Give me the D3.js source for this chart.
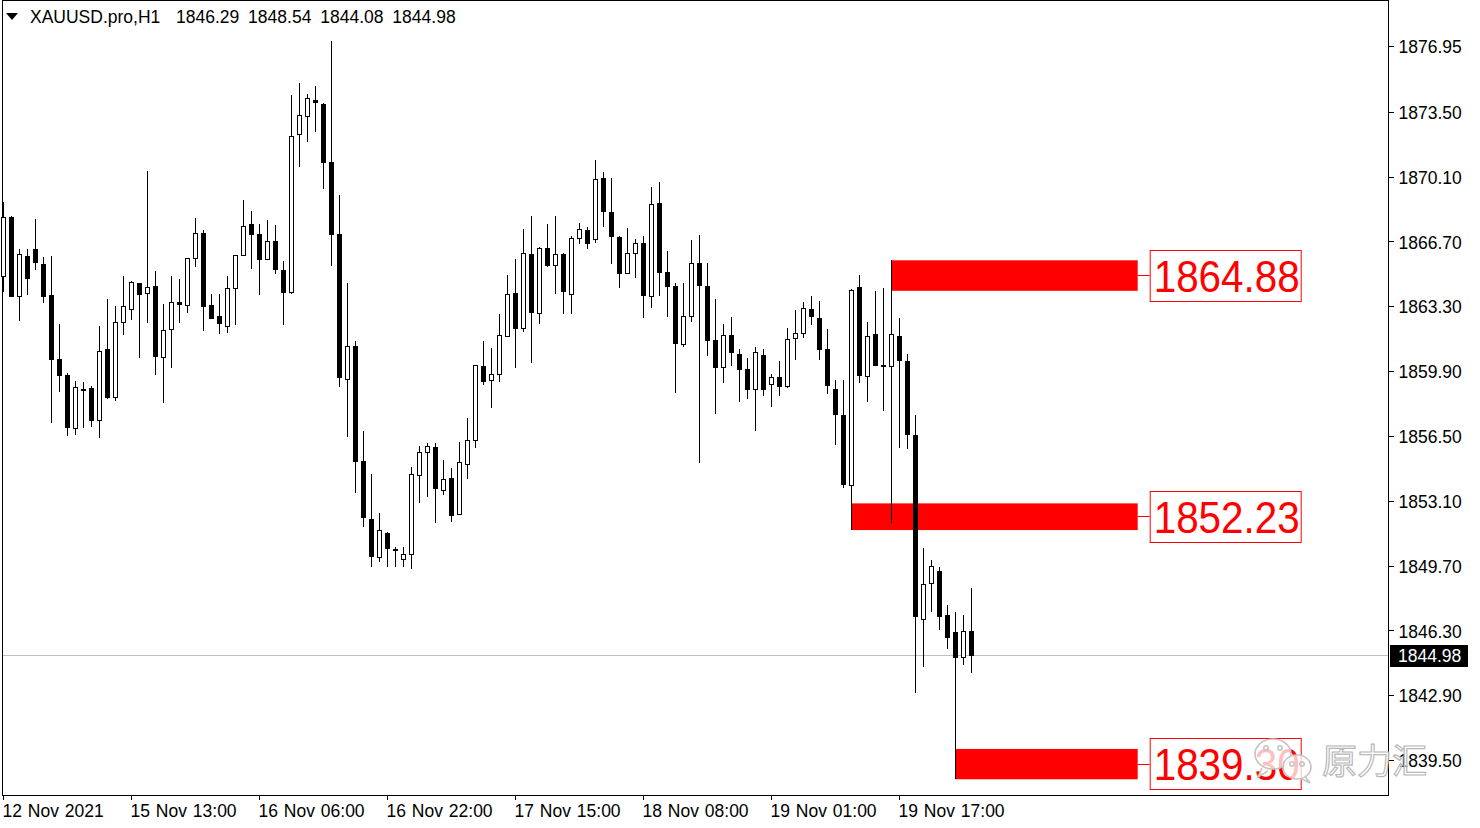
<!DOCTYPE html>
<html>
<head>
<meta charset="utf-8">
<script src="https://cdn.jsdelivr.net/npm/d3@7"></script>
<style>
  body { margin: 0; background: #fff; }
  svg { display: block; font-family: "Liberation Sans", Arial, sans-serif; }
</style>
</head>
<body>
<div id="vis-container"></div>
<script>
/* XAUUSD H1 candles */

const symbol = "XAUUSD.pro,H1";

const opens = [
  1864.85, 1867.96, 1863.80, 1865.92, 1866.29, 1865.50, 1863.87, 1860.52, 1859.69, 1856.90,
  1858.98, 1859.00, 1857.30, 1861.04, 1858.50, 1862.46, 1863.12, 1864.50, 1863.98, 1864.35,
  1860.65, 1862.09, 1863.52, 1863.33, 1865.79, 1867.16, 1863.35, 1862.79, 1862.25, 1864.24,
  1865.97, 1867.61, 1867.09, 1865.76, 1866.72, 1865.20, 1864.01, 1872.32, 1873.26, 1874.10,
  1873.91, 1870.86, 1867.09, 1859.47, 1861.21, 1855.18, 1852.14, 1850.13, 1851.42, 1850.57,
  1850.03, 1850.29, 1854.41, 1855.64, 1855.92, 1853.62, 1854.31, 1852.39, 1855.01, 1856.28,
  1860.16, 1859.43, 1859.73, 1861.75, 1863.98, 1862.12, 1866.02, 1862.93, 1866.34, 1865.45,
  1866.04, 1863.93, 1866.86, 1867.30, 1866.81, 1870.01, 1868.24, 1866.93, 1865.01, 1866.08,
  1866.60, 1863.84, 1868.71, 1865.08, 1864.36, 1861.33, 1862.75, 1865.55, 1864.36, 1861.53,
  1860.13, 1861.79, 1860.79, 1859.99, 1858.96, 1860.74, 1859.21, 1859.60, 1859.08, 1861.62,
  1861.88, 1863.14, 1862.67, 1861.04, 1858.98, 1857.57, 1853.91, 1864.31, 1859.65, 1861.82,
  1860.24, 1860.13, 1861.73, 1860.41, 1856.54, 1846.93, 1848.79, 1849.39, 1847.08, 1846.23,
  1844.91, 1846.29
];
const highs = [
  1868.78, 1868.03, 1866.30, 1866.30, 1867.86, 1865.90, 1865.93, 1862.37, 1859.78, 1859.38,
  1859.34, 1859.13, 1862.26, 1863.68, 1863.33, 1864.89, 1864.62, 1864.53, 1870.39, 1865.15,
  1863.42, 1864.89, 1864.73, 1865.81, 1867.91, 1867.30, 1863.94, 1863.94, 1864.89, 1865.97,
  1868.86, 1868.29, 1867.61, 1867.82, 1867.56, 1865.69, 1874.38, 1875.01, 1874.43, 1874.85,
  1873.97, 1877.21, 1869.13, 1864.53, 1861.48, 1856.76, 1854.50, 1852.44, 1851.47, 1850.66,
  1850.69, 1854.88, 1855.97, 1856.11, 1856.11, 1855.23, 1854.80, 1856.16, 1857.42, 1860.22,
  1861.49, 1861.09, 1862.89, 1864.94, 1865.78, 1867.35, 1868.03, 1866.39, 1867.61, 1868.03,
  1866.08, 1866.98, 1867.65, 1867.44, 1870.97, 1870.32, 1870.01, 1866.98, 1867.39, 1866.81,
  1866.98, 1869.54, 1869.83, 1866.20, 1864.53, 1864.50, 1866.77, 1867.04, 1865.55, 1863.68,
  1862.37, 1862.75, 1861.06, 1860.57, 1861.15, 1861.04, 1859.75, 1860.43, 1862.14, 1863.10,
  1863.54, 1863.84, 1863.57, 1862.09, 1859.41, 1859.41, 1864.20, 1864.93, 1862.49, 1864.08,
  1864.26, 1865.71, 1862.67, 1860.79, 1857.57, 1850.60, 1849.97, 1849.64, 1847.62, 1847.26,
  1847.12, 1848.54
];
const lows = [
  1864.06, 1863.80, 1862.54, 1863.90, 1865.20, 1863.48, 1857.19, 1858.82, 1856.49, 1856.55,
  1856.93, 1856.98, 1856.37, 1858.45, 1858.31, 1861.81, 1862.59, 1860.58, 1862.44, 1859.71,
  1858.24, 1860.04, 1862.44, 1862.96, 1865.37, 1862.02, 1862.61, 1861.84, 1861.91, 1862.33,
  1865.97, 1865.27, 1863.90, 1865.71, 1864.97, 1862.30, 1863.94, 1870.62, 1871.93, 1872.42,
  1869.43, 1865.41, 1859.08, 1856.46, 1853.52, 1851.70, 1849.64, 1849.90, 1849.64, 1849.64,
  1849.64, 1849.52, 1852.96, 1853.31, 1851.95, 1853.40, 1852.00, 1852.39, 1854.22, 1855.85,
  1859.17, 1857.95, 1859.34, 1861.70, 1860.08, 1861.96, 1860.34, 1862.35, 1865.34, 1863.93,
  1862.88, 1862.88, 1866.55, 1866.32, 1866.60, 1867.44, 1865.50, 1864.24, 1864.97, 1864.80,
  1862.67, 1863.22, 1863.84, 1862.75, 1858.76, 1861.18, 1862.49, 1855.09, 1860.71, 1857.65,
  1859.29, 1860.16, 1858.29, 1858.42, 1856.77, 1858.59, 1858.03, 1858.59, 1859.03, 1860.48,
  1861.65, 1862.32, 1860.50, 1858.69, 1856.03, 1853.77, 1851.56, 1859.28, 1858.29, 1860.19,
  1857.80, 1851.93, 1855.85, 1855.80, 1843.01, 1844.40, 1847.26, 1846.32, 1845.31, 1838.49,
  1844.46, 1844.08
];
const closes = [
  1867.96, 1863.80, 1866.02, 1864.74, 1865.58, 1863.80, 1860.48, 1859.66, 1856.93, 1859.05,
  1858.93, 1857.30, 1860.94, 1858.49, 1862.46, 1863.30, 1864.55, 1863.87, 1864.31, 1860.65,
  1862.04, 1863.51, 1863.38, 1865.81, 1867.12, 1863.24, 1862.65, 1862.37, 1864.24, 1865.97,
  1867.49, 1867.05, 1865.74, 1866.71, 1865.22, 1864.01, 1872.21, 1873.31, 1874.21, 1873.97,
  1870.83, 1867.05, 1859.52, 1861.21, 1855.15, 1852.18, 1850.13, 1851.56, 1850.55, 1850.46,
  1850.30, 1854.48, 1855.64, 1855.97, 1853.70, 1854.22, 1852.31, 1855.11, 1856.28, 1860.22,
  1859.34, 1859.73, 1861.78, 1863.93, 1862.09, 1866.08, 1862.93, 1866.34, 1865.43, 1866.02,
  1864.03, 1866.86, 1867.33, 1866.58, 1869.96, 1868.23, 1866.95, 1865.01, 1866.08, 1866.60,
  1863.85, 1868.66, 1865.06, 1864.32, 1861.33, 1862.79, 1865.55, 1864.38, 1861.49, 1860.08,
  1861.79, 1860.86, 1859.96, 1858.91, 1860.88, 1858.91, 1859.60, 1859.08, 1861.57, 1861.88,
  1863.19, 1862.75, 1861.00, 1859.14, 1857.61, 1853.91, 1864.14, 1859.65, 1861.73, 1860.19,
  1860.13, 1861.82, 1860.41, 1856.54, 1846.99, 1848.74, 1849.70, 1846.99, 1845.90, 1844.86,
  1846.27, 1844.98
];

const timeTicks = [0, 16, 32, 48, 64, 80, 96, 112];
const timeLabels = ["12 Nov 2021", "15 Nov 13:00", "16 Nov 06:00", "16 Nov 22:00",
                    "17 Nov 15:00", "18 Nov 08:00", "19 Nov 01:00", "19 Nov 17:00"];

const priceTicks = [1876.95, 1873.50, 1870.10, 1866.70, 1863.30, 1859.90,
                    1856.50, 1853.10, 1849.70, 1846.30, 1842.90, 1839.50];

// red zones drawn on the chart (bar where they start, price top / bottom, label)
const zoneStart = [111, 106, 119];
const zoneTop = [1865.71, 1852.96, 1840.08];
const zoneBottom = [1864.11, 1851.56, 1838.49];
const zoneLabels = ["1864.88", "1852.23", "1839.30"];
const zoneEnd = 141.8;

const watermark = "原力汇";

/* ---------- drawing ---------- */

let width = 1480,
    height = 828,
    axisX = 1388,
    axisY = 795,
    fontSize = 17.5;

let n = closes.length;
let last = n - 1;

let x = d3.scaleLinear().domain([0, last]).range([3.3, 971.3]);
let y = d3.scaleLinear().domain([1839.50, 1876.95]).range([760, 46]);

const px = v => Math.floor(v) + 0.5;

let svg = d3.select('#vis-container')
  .append('svg')
  .attr('width', width)
  .attr('height', height);

svg.append('rect').attr('width', width).attr('height', height).attr('fill', '#fff');

// price axis
let yAxis = svg.append('g')
  .attr('transform', `translate(${axisX + 0.5},0)`)
  .call(d3.axisRight(y).tickValues(priceTicks).tickSize(5).tickPadding(5).tickFormat(d3.format('.2f')));
yAxis.select('.domain').remove();
yAxis.selectAll('line').attr('stroke', '#000').attr('shape-rendering', 'crispEdges');
yAxis.selectAll('text')
  .attr('font-size', fontSize)
  .attr('font-family', '"Liberation Sans", Arial, sans-serif')
  .attr('fill', '#000')
  .attr('dy', '0.38em');

// time axis
let xAxis = svg.append('g')
  .attr('transform', `translate(0,${axisY + 0.5})`)
  .call(d3.axisBottom(x).tickValues(timeTicks).tickSize(4).tickPadding(5)
    .tickFormat((d, i) => timeLabels[i]));
xAxis.select('.domain').remove();
xAxis.selectAll('.tick').attr('transform', d => `translate(${px(x(d))},0)`);
xAxis.selectAll('line').attr('stroke', '#000').attr('shape-rendering', 'crispEdges');
xAxis.selectAll('text')
  .attr('font-size', fontSize)
  .attr('font-family', '"Liberation Sans", Arial, sans-serif')
  .attr('fill', '#000')
  .attr('text-anchor', 'start')
  .attr('word-spacing', 1)
  .attr('dx', -1);

// frame
let frame = svg.append('g').attr('stroke', '#000').attr('shape-rendering', 'crispEdges');
frame.append('line').attr('x1', 2.5).attr('x2', 2.5).attr('y1', 0).attr('y2', axisY + 0.5);
frame.append('line').attr('x1', 2.5).attr('x2', axisX + 0.5).attr('y1', axisY + 0.5).attr('y2', axisY + 0.5);
frame.append('line').attr('x1', axisX + 0.5).attr('x2', axisX + 0.5).attr('y1', 0).attr('y2', axisY + 0.5);
frame.append('line').attr('x1', 2.5).attr('x2', axisX + 0.5).attr('y1', 0.5).attr('y2', 0.5);

// last price line
let lastY = y(closes[last]);
svg.append('line')
  .attr('x1', 3).attr('x2', axisX)
  .attr('y1', px(lastY)).attr('y2', px(lastY))
  .attr('stroke', '#c0c0c0')
  .attr('shape-rendering', 'crispEdges');

// zones
let zones = svg.append('g');
zoneStart.forEach((s, i) => {
  let x0 = px(x(s)), x1 = x(zoneEnd);
  let yTop = y(zoneTop[i]), yBot = y(zoneBottom[i]);
  let mid = (yTop + yBot) / 2;
  zones.append('rect')
    .attr('x', x0).attr('y', yTop)
    .attr('width', x1 - x0).attr('height', yBot - yTop)
    .attr('fill', '#ff0000');
  zones.append('line')
    .attr('x1', x1).attr('x2', x1 + 12)
    .attr('y1', px(mid)).attr('y2', px(mid))
    .attr('stroke', '#ff0000');
  zones.append('rect')
    .attr('x', x1 + 12.5).attr('y', Math.round(mid - 26) + 0.5)
    .attr('width', 151).attr('height', 51)
    .attr('fill', '#fff')
    .attr('stroke', '#ff0000');
  zones.append('text')
    .attr('x', x1 + 16).attr('y', mid + 16)
    .attr('font-size', 44)
    .attr('textLength', 146)
    .attr('lengthAdjust', 'spacingAndGlyphs')
    .attr('fill', '#ff0000')
    .text(zoneLabels[i]);
});

// candles
let candles = svg.append('g').attr('shape-rendering', 'crispEdges');
closes.forEach((c, i) => {
  let o = opens[i];
  let cx = px(x(i));
  candles.append('line')
    .attr('x1', cx).attr('x2', cx)
    .attr('y1', y(highs[i])).attr('y2', y(lows[i]))
    .attr('stroke', '#000');
  let top = y(Math.max(o, c)), bot = y(Math.min(o, c));
  if (c < o) {
    candles.append('rect')
      .attr('x', cx - 2.5).attr('y', top)
      .attr('width', 5).attr('height', Math.max(2, bot - top))
      .attr('fill', '#000');
  } else {
    candles.append('rect')
      .attr('x', cx - 2).attr('y', Math.round(top) + 0.5)
      .attr('width', 4).attr('height', Math.max(1, Math.round(bot - top)))
      .attr('fill', '#fff')
      .attr('stroke', '#000');
  }
});

// last price tag on the axis
svg.append('rect')
  .attr('x', axisX + 2).attr('y', Math.round(lastY) - 11)
  .attr('width', 78).attr('height', 22)
  .attr('fill', '#000');
svg.append('text')
  .attr('x', axisX + 10).attr('y', lastY + 6.5)
  .attr('font-size', fontSize)
  .attr('fill', '#fff')
  .text(d3.format('.2f')(closes[last]));

// header
svg.append('path')
  .attr('d', 'M6,13 L18,13 L12,20 Z')
  .attr('fill', '#000');
svg.append('text')
  .attr('x', 30).attr('y', 23)
  .attr('font-size', fontSize)
  .text(symbol);
svg.append('text')
  .attr('x', 176).attr('y', 23)
  .attr('font-size', fontSize)
  .attr('word-spacing', 4)
  .text([opens[last], highs[last], lows[last], closes[last]].map(d3.format('.2f')).join(' '));

// watermark
let wm = svg.append('g').attr('stroke', '#c4c4c4').attr('stroke-width', 1.6);
wm.append('path')
  .attr('d', 'M1262,768 L1258,777 L1268,771')
  .attr('fill', '#fff').attr('fill-opacity', 0.75);
wm.append('ellipse')
  .attr('cx', 1273).attr('cy', 754).attr('rx', 18).attr('ry', 15)
  .attr('fill', '#fff').attr('fill-opacity', 0.75);
wm.append('path')
  .attr('d', 'M1304,775 L1310,783 L1300,778')
  .attr('fill', '#fff').attr('fill-opacity', 0.75);
wm.append('ellipse')
  .attr('cx', 1297).attr('cy', 767).attr('rx', 14).attr('ry', 12)
  .attr('fill', '#fff').attr('fill-opacity', 0.75);
[[1266, 748], [1280, 748], [1292, 764], [1302, 764]].forEach(p => {
  wm.append('circle').attr('cx', p[0]).attr('cy', p[1]).attr('r', 2.2).attr('fill', 'none');
});
svg.append('text')
  .attr('x', 1322).attr('y', 774)
  .attr('font-size', 35)
  .attr('font-family', '"Noto Sans CJK SC", sans-serif')
  .attr('fill', '#fff')
  .attr('fill-opacity', 0.6)
  .attr('stroke', '#b8b8b8')
  .attr('stroke-width', 1.2)
  .text(watermark);
</script>
</body>
</html>
